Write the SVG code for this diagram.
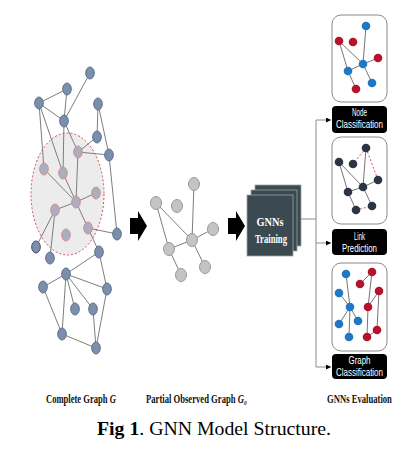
<svg xmlns="http://www.w3.org/2000/svg" width="415" height="458" viewBox="0 0 415 458">
<defs>
<style>
.e{stroke:#7d7d7d;stroke-width:1;fill:none}
.bn{fill:#7b8fab;stroke:#5b6f8e;stroke-width:1}
.pn{fill:#a9afbc;stroke:#d38c98;stroke-width:1}
.gn{fill:#c4c4c4;stroke:#9a9a9a;stroke-width:1}
.card{fill:#fff;stroke:#8a8a8a;stroke-width:1}
.lab{fill:#000}
.lt{fill:#fff;font-family:'Liberation Sans',Arial,sans-serif;font-size:11px;text-anchor:middle}
.conn{stroke:#8a8a8a;stroke-width:1;fill:none}
.red{fill:#b3142b}
.blue{fill:#1f78c1}
.dark{fill:#2c3546}
.pe{stroke:#666;stroke-width:0.9}
.pd{stroke:#d0505a;stroke-width:1;stroke-dasharray:2,2}
.cap{font-family:'Liberation Serif','Times New Roman',serif;font-weight:bold;font-size:11.5px;fill:#111}
.it{font-style:italic}
.sub{font-size:7px}
.box{fill:#3b4a50;stroke:#9aa6aa;stroke-width:0.8}
</style>
<marker id="ah" viewBox="0 0 6 6" refX="6" refY="3" markerWidth="5" markerHeight="5" orient="auto">
<path d="M0,0 L6,3 L0,6 z" fill="#000"/>
</marker>
</defs>
<rect width="415" height="458" fill="#fff"/>

<!-- Complete graph G -->
<g id="complete-graph">
<ellipse cx="67.5" cy="194" rx="36.5" ry="61" fill="#ececec" stroke="#cc4a5a" stroke-width="1" stroke-dasharray="2,2"/>
<g class="e">
<line x1="39" y1="103" x2="67" y2="89"/>
<line x1="67" y1="89" x2="64" y2="121"/>
<line x1="39" y1="103" x2="64" y2="121"/>
<line x1="90" y1="73" x2="64" y2="121"/>
<line x1="39" y1="103" x2="44" y2="169"/>
<line x1="39" y1="103" x2="63" y2="173"/>
<line x1="64" y1="121" x2="63" y2="173"/>
<line x1="64" y1="121" x2="78" y2="152"/>
<line x1="98" y1="104" x2="97" y2="137"/>
<line x1="97" y1="137" x2="78" y2="152"/>
<line x1="78" y1="152" x2="109" y2="155"/>
<line x1="98" y1="104" x2="109" y2="155"/>
<line x1="109" y1="155" x2="117" y2="234"/>
<line x1="78" y1="152" x2="76" y2="202"/>
<line x1="44" y1="169" x2="76" y2="202"/>
<line x1="63" y1="173" x2="76" y2="202"/>
<line x1="96" y1="193" x2="76" y2="202"/>
<line x1="76" y1="202" x2="55" y2="210"/>
<line x1="76" y1="202" x2="88" y2="228"/>
<line x1="55" y1="210" x2="36" y2="247"/>
<line x1="55" y1="210" x2="50" y2="258"/>
<line x1="88" y1="228" x2="117" y2="234"/>
<line x1="88" y1="228" x2="99" y2="252"/>
<line x1="99" y1="252" x2="66" y2="274"/>
<line x1="66" y1="274" x2="43" y2="287"/>
<line x1="66" y1="274" x2="107" y2="289"/>
<line x1="66" y1="274" x2="75" y2="309"/>
<line x1="66" y1="274" x2="93" y2="309"/>
<line x1="66" y1="274" x2="62" y2="334"/>
<line x1="99" y1="252" x2="107" y2="289"/>
<line x1="43" y1="287" x2="62" y2="334"/>
<line x1="62" y1="334" x2="96" y2="348"/>
<line x1="93" y1="309" x2="96" y2="348"/>
<line x1="107" y1="289" x2="96" y2="348"/>
</g>
<g class="bn">
<ellipse cx="90" cy="73" rx="4.3" ry="6"/>
<ellipse cx="67" cy="89" rx="4.3" ry="6"/>
<ellipse cx="39" cy="103" rx="4.3" ry="6"/>
<ellipse cx="98" cy="104" rx="4.3" ry="6"/>
<ellipse cx="64" cy="121" rx="4.3" ry="6"/>
<ellipse cx="97" cy="137" rx="4.3" ry="6"/>
<ellipse cx="109" cy="155" rx="4.3" ry="6"/>
<ellipse cx="117" cy="234" rx="4.3" ry="6"/>
<ellipse cx="36" cy="247" rx="4.3" ry="6" stroke="#3e4e66"/>
<ellipse cx="50" cy="258" rx="4.3" ry="6"/>
<ellipse cx="99" cy="252" rx="4.3" ry="6"/>
<ellipse cx="66" cy="274" rx="4.3" ry="6"/>
<ellipse cx="43" cy="287" rx="4.3" ry="6"/>
<ellipse cx="107" cy="289" rx="4.3" ry="6"/>
<ellipse cx="75" cy="309" rx="4.3" ry="6"/>
<ellipse cx="93" cy="309" rx="4.3" ry="6"/>
<ellipse cx="62" cy="334" rx="4.3" ry="6"/>
<ellipse cx="96" cy="348" rx="4.3" ry="6"/>
</g>
<g class="pn">
<ellipse cx="78" cy="152" rx="4.3" ry="6"/>
<ellipse cx="44" cy="169" rx="4.3" ry="6"/>
<ellipse cx="63" cy="173" rx="4.3" ry="6"/>
<ellipse cx="96" cy="193" rx="4.3" ry="6"/>
<ellipse cx="76" cy="202" rx="4.3" ry="6"/>
<ellipse cx="55" cy="210" rx="4.3" ry="6"/>
<ellipse cx="88" cy="228" rx="4.3" ry="6"/>
<ellipse cx="66" cy="235" rx="4.3" ry="6"/>
</g>
</g>

<!-- Block arrows -->
<g id="arrow1"><polygon points="130,218 138,218 138,211 147,226 138,241 138,234 130,234" fill="#000"/></g>
<g id="arrow2"><polygon points="228,218 236,218 236,211 245,226 236,241 236,234 228,234" fill="#000"/></g>

<!-- Partial observed graph -->
<g id="partial-graph">
<g class="e" stroke="#8a8a8a">
<line x1="194" y1="184" x2="192" y2="240"/>
<line x1="156" y1="203" x2="192" y2="240"/>
<line x1="156" y1="203" x2="169" y2="249"/>
<line x1="213" y1="229" x2="192" y2="240"/>
<line x1="192" y1="240" x2="169" y2="249"/>
<line x1="192" y1="240" x2="205" y2="267"/>
<line x1="169" y1="249" x2="181" y2="275"/>
</g>
<g class="gn">
<ellipse cx="194" cy="184" rx="5.5" ry="6.5"/>
<ellipse cx="156" cy="203" rx="5.5" ry="6.5"/>
<ellipse cx="177" cy="206" rx="5.5" ry="6.5"/>
<ellipse cx="213" cy="229" rx="5.5" ry="6.5"/>
<ellipse cx="192" cy="240" rx="5.5" ry="6.5"/>
<ellipse cx="169" cy="249" rx="5.5" ry="6.5"/>
<ellipse cx="205" cy="267" rx="5.5" ry="6.5"/>
<ellipse cx="181" cy="275" rx="5.5" ry="6.5"/>
</g>
</g>

<!-- GNNs Training -->
<g id="gnn-training">
<rect class="box" x="255" y="185" width="46" height="61"/>
<rect class="box" x="251" y="190" width="46" height="61"/>
<rect class="box" x="247" y="195" width="46" height="61"/>
<text x="270" y="226" font-family="'Liberation Serif','Times New Roman',serif" font-weight="bold" font-size="13" fill="#fff" text-anchor="middle" textLength="27" lengthAdjust="spacingAndGlyphs">GNNs</text>
<text x="271" y="243" font-family="'Liberation Serif','Times New Roman',serif" font-weight="bold" font-size="13" fill="#fff" text-anchor="middle" textLength="32" lengthAdjust="spacingAndGlyphs">Training</text>
</g>

<!-- Connectors -->
<g id="connectors">
<line class="conn" x1="301" y1="219" x2="316" y2="219"/>
<line class="conn" x1="316" y1="120" x2="316" y2="367"/>
<line class="conn" x1="316" y1="120" x2="331" y2="120" marker-end="url(#ah)"/>
<line class="conn" x1="316" y1="243" x2="331" y2="243" marker-end="url(#ah)"/>
<line class="conn" x1="316" y1="367" x2="331" y2="367" marker-end="url(#ah)"/>
</g>

<!-- Node classification -->
<g id="node-classification">
<rect class="card" x="332" y="15" width="55" height="87" rx="9"/>
<g class="pe">
<line x1="366" y1="26" x2="363" y2="64"/>
<line x1="339" y1="41" x2="363" y2="64"/>
<line x1="339" y1="41" x2="348" y2="71"/>
<line x1="378" y1="58" x2="363" y2="64"/>
<line x1="363" y1="64" x2="348" y2="71"/>
<line x1="363" y1="64" x2="372" y2="83"/>
<line x1="348" y1="71" x2="356" y2="89"/>
</g>
<circle class="blue" cx="366" cy="26" r="4.3"/>
<circle class="red" cx="339" cy="41" r="4.3"/>
<circle class="red" cx="353" cy="42" r="4.3"/>
<circle class="red" cx="378" cy="58" r="4.3"/>
<circle class="blue" cx="363" cy="64" r="4.3"/>
<circle class="blue" cx="348" cy="71" r="4.3"/>
<circle class="blue" cx="372" cy="83" r="4.3"/>
<circle class="red" cx="356" cy="89" r="4.3"/>
<rect class="lab" x="332" y="106" width="55" height="27" rx="4"/>
<text class="lt" x="359.5" y="116" textLength="15" lengthAdjust="spacingAndGlyphs">Node</text>
<text class="lt" x="359.5" y="128" textLength="47" lengthAdjust="spacingAndGlyphs">Classification</text>
</g>

<!-- Link prediction -->
<g id="link-prediction">
<rect class="card" x="332" y="137" width="55" height="87" rx="9"/>
<g class="pe">
<line x1="366" y1="148" x2="363" y2="187"/>
<line x1="339" y1="162" x2="363" y2="187"/>
<line x1="339" y1="162" x2="348" y2="192"/>
<line x1="378" y1="180" x2="363" y2="187"/>
<line x1="363" y1="187" x2="348" y2="192"/>
<line x1="363" y1="187" x2="372" y2="206"/>
<line x1="348" y1="192" x2="356" y2="210"/>
</g>
<g class="pd">
<line x1="366" y1="148" x2="353" y2="164"/>
<line x1="366" y1="148" x2="378" y2="180"/>
<line x1="356" y1="210" x2="372" y2="206"/>
</g>
<circle class="dark" cx="366" cy="148" r="4.3"/>
<circle class="dark" cx="339" cy="162" r="4.3"/>
<circle class="dark" cx="353" cy="164" r="4.3"/>
<circle class="dark" cx="378" cy="180" r="4.3"/>
<circle class="dark" cx="363" cy="187" r="4.3"/>
<circle class="dark" cx="348" cy="192" r="4.3"/>
<circle class="dark" cx="372" cy="206" r="4.3"/>
<circle class="dark" cx="356" cy="210" r="4.3"/>
<rect class="lab" x="332" y="229" width="55" height="26" rx="4"/>
<text class="lt" x="359.5" y="240" textLength="11" lengthAdjust="spacingAndGlyphs">Link</text>
<text class="lt" x="359.5" y="252" textLength="35" lengthAdjust="spacingAndGlyphs">Prediction</text>
</g>

<!-- Graph classification -->
<g id="graph-classification">
<rect class="card" x="332" y="263" width="55" height="88" rx="9"/>
<g class="pe">
<line x1="346" y1="274" x2="350" y2="307"/>
<line x1="339" y1="293" x2="350" y2="307"/>
<line x1="350" y1="307" x2="339" y2="324"/>
<line x1="350" y1="307" x2="358" y2="321"/>
<line x1="350" y1="307" x2="349" y2="337"/>
<line x1="372" y1="272" x2="360" y2="284"/>
<line x1="372" y1="272" x2="368" y2="307"/>
<line x1="379" y1="291" x2="368" y2="307"/>
<line x1="379" y1="291" x2="377" y2="330"/>
<line x1="368" y1="307" x2="367" y2="337"/>
<line x1="377" y1="330" x2="367" y2="337"/>
</g>
<circle class="blue" cx="346" cy="274" r="4.3"/>
<circle class="blue" cx="339" cy="293" r="4.3"/>
<circle class="blue" cx="350" cy="307" r="4.3"/>
<circle class="blue" cx="339" cy="324" r="4.3"/>
<circle class="blue" cx="358" cy="321" r="4.3"/>
<circle class="blue" cx="349" cy="337" r="4.3"/>
<circle class="red" cx="372" cy="272" r="4.3"/>
<circle class="red" cx="360" cy="284" r="4.3"/>
<circle class="red" cx="379" cy="291" r="4.3"/>
<circle class="red" cx="368" cy="307" r="4.3"/>
<circle class="red" cx="377" cy="330" r="4.3"/>
<circle class="red" cx="367" cy="337" r="4.3"/>
<rect class="lab" x="332" y="354" width="55" height="25" rx="4"/>
<text class="lt" x="359.5" y="364" textLength="22" lengthAdjust="spacingAndGlyphs">Graph</text>
<text class="lt" x="359.5" y="376" textLength="47" lengthAdjust="spacingAndGlyphs">Classification</text>
</g>

<!-- Labels -->
<g id="labels">
<text class="cap" transform="translate(46,403) scale(0.745,1)">Complete Graph <tspan class="it">G</tspan></text>
<text class="cap" transform="translate(146,403) scale(0.75,1)">Partial Observed Graph <tspan class="it">G</tspan><tspan class="it sub" dy="2">0</tspan></text>
<text class="cap" transform="translate(327,403) scale(0.75,1)">GNNs Evaluation</text>
<text transform="translate(97,435) scale(1.07,1)" font-family="'Liberation Serif','Times New Roman',serif" font-size="18.5" fill="#000"><tspan font-weight="bold">Fig 1</tspan>. GNN Model Structure.</text>
</g>
</svg>
